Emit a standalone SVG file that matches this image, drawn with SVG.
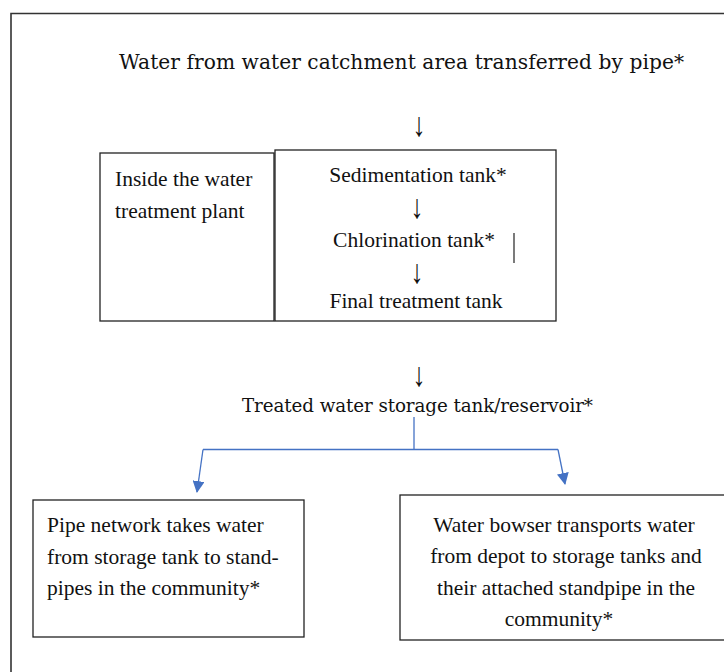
<svg xmlns="http://www.w3.org/2000/svg" width="724" height="672" viewBox="0 0 724 672">
<style>
.box{fill:none;stroke:#222;stroke-width:1.3}
.t{font-family:"Liberation Serif","Times New Roman",serif;font-size:21.5px;fill:#111}
.a{font-family:"Liberation Serif","Times New Roman",serif;font-size:26px;fill:#111;text-anchor:middle}
.p{font-family:"DejaVu Serif",serif;fill:#111}
.c{text-anchor:middle}
.con{fill:none;stroke:#4472C4;stroke-width:1.3}
</style>
<defs>
<marker id="ah" viewBox="0 0 12 12" refX="11" refY="6" markerWidth="12" markerHeight="12" markerUnits="userSpaceOnUse" orient="auto">
<path d="M0,0 L12,6 L0,12 z" fill="#4472C4"/>
</marker>
</defs>
<rect width="724" height="672" fill="#fff"/>
<path d="M11,680 L11,13.5 L740,13.5" fill="none" stroke="#333" stroke-width="1.6"/>

<g id="source">
<text class="p" x="119" y="69" font-size="20.2" textLength="565">Water from water catchment area transferred by pipe*</text>
<text class="a" transform="translate(419,136) scale(1,1.3)">↓</text>
</g>

<g id="plant">
<rect class="box" x="100" y="153" width="174" height="168"/>
<text class="t" x="115" y="186">Inside the water</text>
<text class="t" x="115" y="218">treatment plant</text>
</g>

<g id="treatment">
<rect class="box" x="275" y="150" width="281" height="171"/>
<text class="t c" x="418" y="182">Sedimentation tank*</text>
<text class="a" transform="translate(417,218) scale(1,1.3)">↓</text>
<text class="t c" x="414" y="247">Chlorination tank*</text>
<text class="a" transform="translate(417,283) scale(1,1.3)">↓</text>
<text class="t c" x="416" y="308">Final treatment tank</text>
<line x1="514" y1="233" x2="514" y2="263" stroke="#222" stroke-width="1.2"/>
</g>

<g id="storage">
<text class="a" transform="translate(419,386) scale(1,1.3)">↓</text>
<text class="p" x="242" y="412" font-size="18.3" textLength="351">Treated water storage tank/reservoir*</text>
</g>

<g id="pipe-network">
<rect class="box" x="33" y="500" width="271" height="137"/>
<text class="t" x="47" y="532">Pipe network takes water</text>
<text class="t" x="47" y="564">from storage tank to stand-</text>
<text class="t" x="47" y="595">pipes in the community*</text>
</g>

<g id="bowser">
<rect class="box" x="400" y="495" width="340" height="145"/>
<text class="t c" x="564" y="532">Water bowser transports water</text>
<text class="t c" x="566" y="563">from depot to storage tanks and</text>
<text class="t c" x="566" y="595">their attached standpipe in the</text>
<text class="t c" x="559" y="626">community*</text>
</g>

<g id="connectors">
<line class="con" x1="414" y1="417" x2="414" y2="449.5"/>
<line class="con" x1="203" y1="449.5" x2="558" y2="449.5"/>
<line class="con" x1="203" y1="449.5" x2="197" y2="492" marker-end="url(#ah)"/>
<line class="con" x1="558" y1="449.5" x2="565" y2="484" marker-end="url(#ah)"/>
</g>
</svg>
